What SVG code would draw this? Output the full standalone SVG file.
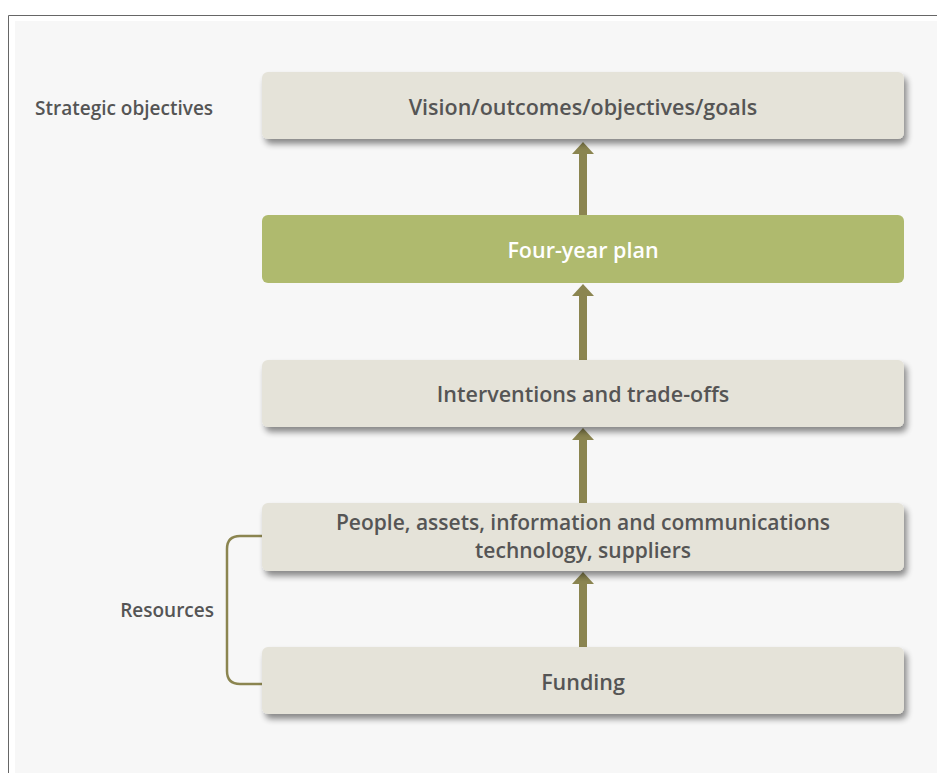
<svg xmlns="http://www.w3.org/2000/svg" width="937" height="773" viewBox="0 0 937 773">
<defs>
<filter id="sh" x="-5%" y="-20%" width="115%" height="160%">
<feGaussianBlur in="SourceAlpha" stdDeviation="3"/>
<feOffset dx="3" dy="5" result="b"/>
<feComponentTransfer><feFuncA type="linear" slope="0.45"/></feComponentTransfer>
<feMerge><feMergeNode/><feMergeNode in="SourceGraphic"/></feMerge>
</filter>
</defs>
<style>
.box{fill:#e5e3d9;filter:url(#sh)}
.t{font-family:"Open Sans","Liberation Sans",sans-serif;font-weight:600;font-size:21.5px;fill:#555;text-anchor:middle}
.l{font-family:"Open Sans","Liberation Sans",sans-serif;font-weight:600;font-size:19px;fill:#555}
.arr{stroke:#8b8550;stroke-width:8;fill:none}
.hd{fill:#8b8550}
</style>
<rect x="0" y="0" width="937" height="773" fill="#fff"/>
<rect x="15" y="21" width="922" height="752" fill="#f7f7f7"/>
<path d="M8.5,773 V15.5 H937" fill="none" stroke="#666" stroke-width="1"/>
<g id="label-strategic"><text class="l" x="35" y="115">Strategic objectives</text></g>
<g id="label-resources"><text class="l" x="214" y="617" text-anchor="end">Resources</text></g>
<g id="connectors">
<line class="arr" x1="583" y1="215" x2="583" y2="154"/>
<path class="hd" d="M572,154 L583,142 L594,154 Z"/>
<line class="arr" x1="583" y1="360" x2="583" y2="296"/>
<path class="hd" d="M572,296 L583,284 L594,296 Z"/>
<line class="arr" x1="583" y1="503" x2="583" y2="440"/>
<path class="hd" d="M572,440 L583,428 L594,440 Z"/>
<line class="arr" x1="583" y1="647" x2="583" y2="584"/>
<path class="hd" d="M572,584 L583,572 L594,584 Z"/>
<path d="M262,536 H240 Q227,536 227,549 V671 Q227,684 240,684 H262" fill="none" stroke="#8b8550" stroke-width="2.5"/>
</g>
<g id="n1"><rect class="box" x="262" y="72" width="642" height="67" rx="6"/><text class="t" x="583" y="115">Vision/outcomes/objectives/goals</text></g>
<g id="n2"><rect x="262" y="215" width="642" height="68" rx="6" fill="#afba6e"/><text class="t" x="583" y="258" style="fill:#fff">Four-year plan</text></g>
<g id="n3"><rect class="box" x="262" y="360" width="642" height="67" rx="6"/><text class="t" x="583" y="402">Interventions and trade-offs</text></g>
<g id="n4"><rect class="box" x="262" y="503" width="642" height="68" rx="6"/><text class="t" x="583" y="530" style="font-size:21px">People, assets, information and communications</text><text class="t" x="583" y="558" style="font-size:21px">technology, suppliers</text></g>
<g id="n5"><rect class="box" x="262" y="647" width="642" height="67" rx="6"/><text class="t" x="583" y="690">Funding</text></g>
</svg>
